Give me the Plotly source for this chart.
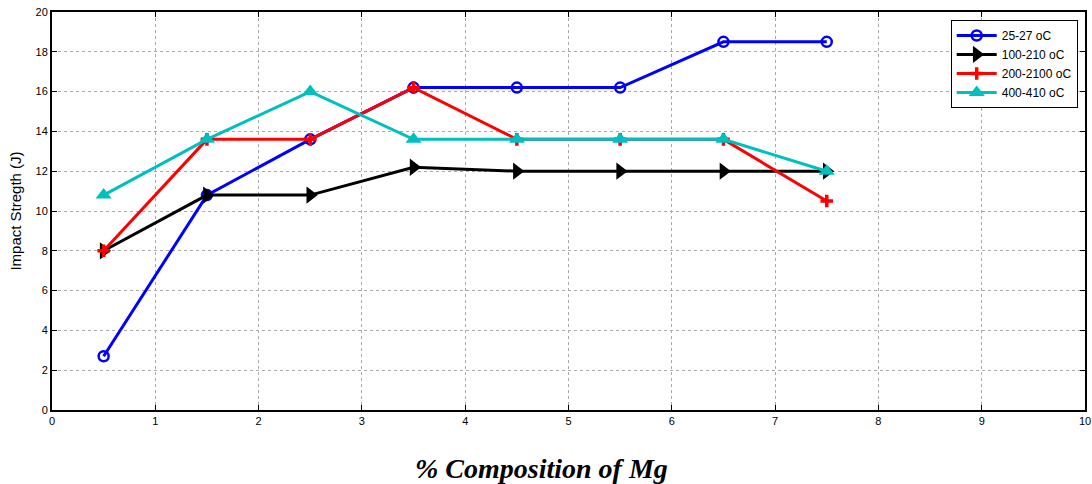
import plotly.graph_objects as go

x_vals = [0.5, 1.5, 2.5, 3.5, 4.5, 5.5, 6.5, 7.5]
s1_name = "25-27 oC"
s1 = [2.7, 10.8, 13.6, 16.2, 16.2, 16.2, 18.5, 18.5]
s2_name = "100-210 oC"
s2 = [8.0, 10.8, 10.8, 12.2, 12.0, 12.0, 12.0, 12.0]
s3_name = "200-2100 oC"
s3 = [8.0, 13.6, 13.6, 16.2, 13.6, 13.6, 13.6, 10.5]
s4_name = "400-410 oC"
s4 = [10.8, 13.6, 16.0, 13.6, 13.6, 13.6, 13.6, 12.0]

x_ticks = list(range(0, 11))
y_ticks = list(range(0, 21, 2))

FONT = "Liberation Sans, Arial, sans-serif"

fig = go.Figure()
fig.add_trace(go.Scatter(x=x_vals, y=s1, name=s1_name, mode="lines+markers",
                         line=dict(color="#0000ff", width=3),
                         marker=dict(symbol="circle-open", size=10, color="#0000ff", line=dict(width=2.5))))
fig.add_trace(go.Scatter(x=x_vals, y=s2, name=s2_name, mode="lines+markers",
                         line=dict(color="#000000", width=3),
                         marker=dict(symbol="triangle-right", size=15, color="#000000")))
fig.add_trace(go.Scatter(x=x_vals, y=s3, name=s3_name, mode="lines+markers",
                         line=dict(color="#ff0000", width=3),
                         marker=dict(symbol="cross-thin-open", size=9, color="#ff0000", line=dict(width=3.5, color="#ff0000"))))
fig.add_trace(go.Scatter(x=x_vals, y=s4, name=s4_name, mode="lines+markers",
                         line=dict(color="#00bfbf", width=3),
                         marker=dict(symbol="triangle-up", size=14, color="#00bfbf")))

axis_common = dict(showline=True, linecolor="black", linewidth=2, mirror="ticks",
                   ticks="inside", ticklen=5, tickcolor="black",
                   showgrid=True, gridcolor="#aaaaaa", griddash="dot", gridwidth=1,
                   zeroline=False, automargin=False,
                   tickfont=dict(family=FONT, size=11, color="black"))

fig.update_xaxes(range=[0, 10], tickvals=x_ticks, **axis_common)
fig.update_yaxes(range=[0, 20], tickvals=y_ticks,
                 title=dict(text="Impact Stregth (J)", font=dict(family=FONT, size=15, color="black"), standoff=10),
                 **axis_common)

fig.add_annotation(text="<b><i>% Composition of Mg</i></b>", xref="paper", yref="paper",
                   x=0.474, y=-0.146, xanchor="center", yanchor="middle", showarrow=False,
                   font=dict(family="Liberation Serif, Times New Roman, serif", size=28, color="black"))

fig.update_layout(
    width=1092, height=484,
    margin=dict(l=52, r=7, t=12, b=74),
    plot_bgcolor="white", paper_bgcolor="white",
    legend=dict(x=0.87, y=0.98, xanchor="left", yanchor="top",
                bordercolor="black", borderwidth=1, bgcolor="white",
                font=dict(family=FONT, size=12, color="black"),
                tracegroupgap=0, itemwidth=40),
)

fig.write_html("out.html")
